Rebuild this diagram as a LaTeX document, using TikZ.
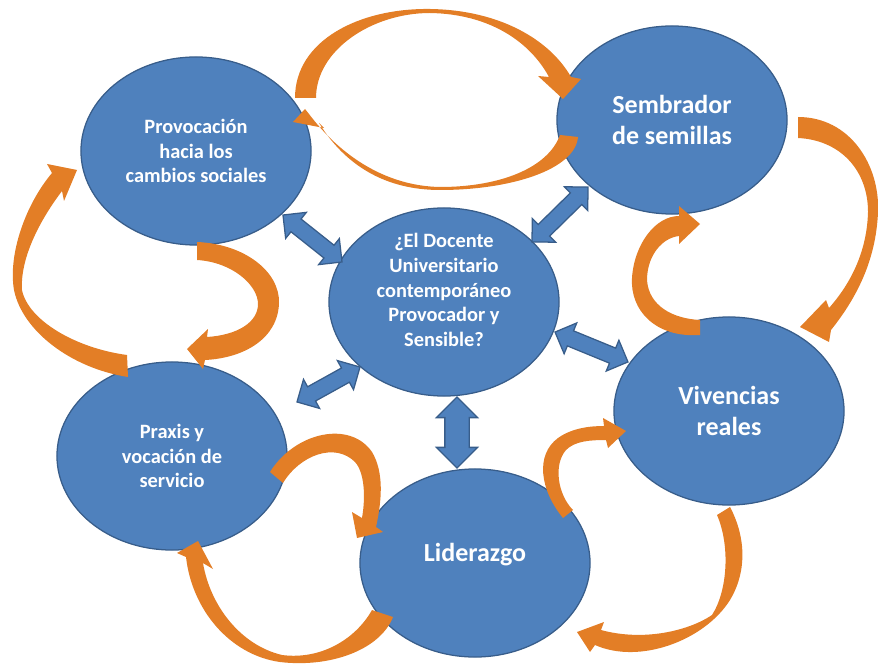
\documentclass[tikz,border=0pt]{standalone}
\usepackage{fontspec}
\setmainfont{Carlito}
\usetikzlibrary{shapes.geometric,shapes.arrows}

\definecolor{circblue}{RGB}{79,129,189}
\definecolor{circline}{RGB}{56,93,138}
\definecolor{arrorange}{RGB}{227,126,38}

\tikzset{
  circ/.style={ellipse, draw=circline, line width=0.9pt, fill=circblue,
    minimum width=5.75cm, minimum height=4.7cm, inner sep=0pt,
    text=white, align=center, font=\bfseries\fontsize{14.5}{17.5}\selectfont},
  bigtxt/.style={font=\bfseries\fontsize{18.5}{21.5}\selectfont},
  circtxt/.style={text=white, align=center, inner sep=0pt,
    font=\bfseries\fontsize{14.5}{17.5}\selectfont},
  dblarrow/.style={double arrow, draw=circline, line width=0.9pt, fill=circblue,
    inner sep=0pt, text height=0.375cm, text depth=0pt,
    double arrow head extend=0.2125cm},
  curvarrow/.style={fill=arrorange}
}

\begin{document}
\begin{tikzpicture}[x=0.025cm, y=-0.025cm]
  \useasboundingbox (0,0) rectangle (878,668);

  % the six circles
  \node[circ] (prov) at (196,151) {Provocación\\hacia los\\cambios sociales};
  \node[circ, bigtxt] (semb) at (672,120) {Sembrador\\de semillas};
  \node[circ, label={[circtxt, yshift=0.3cm, name=centrotxt]center:{¿El Docente\\Universitario\\contemporáneo\\Provocador y\\Sensible?}}] (centro) at (444,302) {};
  \node[circ] (praxis) at (172,456) {Praxis y\\vocación de\\servicio};
  \node[circ, label={[circtxt, bigtxt, yshift=0.22cm, name=lidertxt]center:Liderazgo}] (lider) at (475,563) {};
  \node[circ, bigtxt] (viv) at (729,411) {Vivencias\\reales};

  % curved arrows round the ring
  % prov -> semb
  \fill[curvarrow] (295,98) .. controls (295,40) and (360,8) .. (430,9)
    .. controls (500,10) and (550,40) .. (571,77) -- (581,79) -- (563,99) -- (538,76) -- (549,77)
    .. controls (530,42) and (490,14) .. (430,13) .. controls (372,13) and (316,50) .. (316,98) -- cycle;
  % semb -> prov
  \fill[curvarrow] (578,137) .. controls (575,170) and (510,190) .. (440,190)
    .. controls (385,190) and (345,165) .. (319,123) -- (324,128) -- (293,122) -- (305,109) -- (309,114)
    .. controls (340,155) and (385,186) .. (440,187) .. controls (500,187) and (548,168) .. (560,135) -- cycle;
  % semb -> viv
  \fill[curvarrow] (798,117) .. controls (850,117) and (880,165) .. (878,212)
    .. controls (876,262) and (855,300) .. (831,330) -- (829,342) -- (800,327) -- (826,300) -- (829,308)
    .. controls (852,282) and (867,250) .. (868,212) .. controls (868,170) and (840,140) .. (798,138) -- cycle;
  % viv -> semb
  \fill[curvarrow] (700,335) .. controls (655,338) and (630,310) .. (632,278)
    .. controls (634,245) and (655,216) .. (679,216) -- (679,206) -- (700,224) -- (679,244) -- (679,236)
    .. controls (662,238) and (648,255) .. (647,278) .. controls (647,300) and (665,318) .. (700,320) -- cycle;
  % viv -> lider
  \fill[curvarrow] (730,507) .. controls (745,535) and (748,570) .. (730,600)
    .. controls (705,640) and (640,665) .. (595,645) -- (590,652) -- (577,632) -- (604,622) -- (601,630)
    .. controls (645,642) and (690,630) .. (712,615) .. controls (728,590) and (730,545) .. (717,515) -- cycle;
  % lider -> viv
  \fill[curvarrow] (563,518) .. controls (540,490) and (535,455) .. (558,438)
    .. controls (572,428) and (590,426) .. (604,426) -- (603,418) -- (626,431) -- (608,448) -- (606,440)
    .. controls (590,440) and (575,441) .. (566,450) .. controls (553,465) and (558,495) .. (573,510) -- cycle;
  % praxis -> lider
  \fill[curvarrow] (270,472) .. controls (295,432) and (350,420) .. (372,452)
    .. controls (384,472) and (382,500) .. (376,527) -- (383,532) -- (357,538) -- (352,512) -- (362,518)
    .. controls (366,495) and (364,472) .. (355,462) .. controls (335,442) and (300,455) .. (283,483) -- cycle;
  % lider -> praxis
  \fill[curvarrow] (393,617) .. controls (380,650) and (330,668) .. (280,662)
    .. controls (230,655) and (192,610) .. (186,557) -- (177,553) -- (198,541) -- (213,569) -- (203,563)
    .. controls (210,605) and (240,645) .. (282,655) .. controls (320,660) and (355,640) .. (372,610) -- cycle;
  % praxis -> prov
  \fill[curvarrow] (128,377) .. controls (70,368) and (22,330) .. (14,290)
    .. controls (8,255) and (25,205) .. (52,173) -- (47,164) -- (77,170) -- (64,201) -- (62,191)
    .. controls (40,220) and (20,258) .. (22,290) .. controls (28,320) and (75,348) .. (127,355) -- cycle;
  % prov -> praxis
  \fill[curvarrow] (197,242) .. controls (245,244) and (280,272) .. (279,303)
    .. controls (278,338) and (245,358) .. (205,360) -- (203,369) -- (187,349) -- (208,329) -- (207,337)
    .. controls (238,335) and (258,322) .. (258,304) .. controls (258,285) and (232,262) .. (197,260) -- cycle;

  % double arrows to the centre
  \node[dblarrow, minimum height=1.885cm, rotate=-38.5] (dprov) at (312.5,238.5) {};
  \node[dblarrow, minimum height=1.96cm, rotate=44.5] (dsemb) at (560,214.5) {};
  \node[dblarrow, minimum height=1.97cm, rotate=-22.3] (dviv) at (591.5,347) {};
  \node[dblarrow, minimum height=1.8cm, rotate=29] (dpraxis) at (328.5,384.5) {};
  \node[dblarrow, minimum height=1.775cm, rotate=90, text height=0.575cm] (dlider) at (457,432.5) {};
\end{tikzpicture}
\end{document}
